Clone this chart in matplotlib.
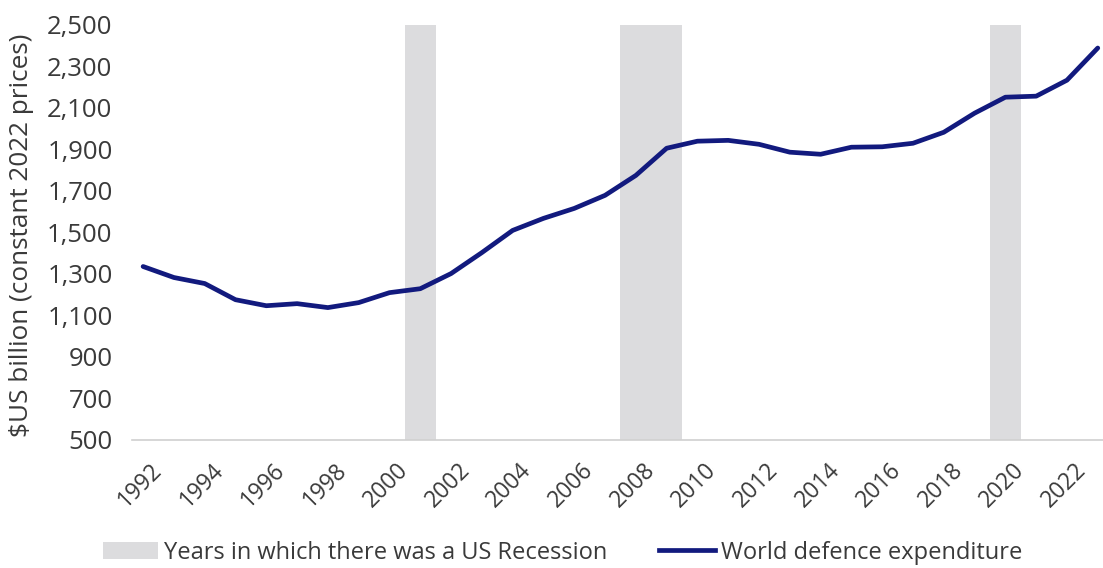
import matplotlib
matplotlib.use("Agg")
import matplotlib.pyplot as plt
import matplotlib.transforms as mtransforms
from matplotlib.patches import Patch
from matplotlib.lines import Line2D

# World defence expenditure, $US billion (constant 2022 prices)
years = list(range(1992, 2024))
spending = [1336, 1283, 1254, 1176, 1147, 1157, 1138, 1162, 1210, 1229,
            1302, 1403, 1510, 1568, 1616, 1679, 1775, 1906, 1940, 1944,
            1925, 1887, 1877, 1911, 1913, 1930, 1983, 2075, 2152, 2157,
            2234, 2389]

# years with a US recession (shaded columns)
recession_years = [2001, 2008, 2009, 2020]
tick_years = list(range(1992, 2024, 2))

plt.rcParams['font.family'] = ['Open Sans', 'DejaVu Sans']
txt_color = '#3a3a3a'
navy = '#121a7e'
shade = '#dcdcde'

fig = plt.figure(figsize=(11.03, 5.68), dpi=100)
ax = fig.add_axes([0.1197, 0.2254, 0.8803, 0.7306])

ax.bar(recession_years, [2500 - 500] * len(recession_years), bottom=500,
       width=1.0, color=shade, linewidth=0, zorder=1)
ax.plot(years, spending, color=navy, linewidth=3.4, solid_joinstyle='round',
        solid_capstyle='round', zorder=3)

ax.set_ylim(500, 2500)
ax.set_xlim(1991.64, 2023.17)
ax.set_yticks(range(500, 2501, 200))
ax.set_yticklabels([f'{v:,}' for v in range(500, 2501, 200)])
ax.set_xticks(tick_years)
ax.set_xticklabels([str(y) for y in tick_years], rotation=45, ha='right',
                   rotation_mode='anchor')
ax.tick_params(axis='both', length=0, colors=txt_color)
ax.tick_params(axis='x', pad=11, labelsize=16.5)
ax.tick_params(axis='y', pad=14, labelsize=18.5)

# nudge the slanted year labels so their ends sit just past the tick
shift = mtransforms.ScaledTranslation(0.07, -0.03, fig.dpi_scale_trans)
for lbl in ax.get_xticklabels():
    lbl.set_transform(lbl.get_transform() + shift)

for side in ['top', 'right', 'left']:
    ax.spines[side].set_visible(False)
ax.spines['bottom'].set_color('#d0d0d0')
ax.spines['bottom'].set_linewidth(1.2)

fig.text(22 / 1103, 0.585, '$US billion (constant 2022 prices)',
         rotation=90, ha='center', va='center', fontsize=18.8,
         color=txt_color)

handles = [Patch(facecolor=shade, edgecolor='none',
                 label='Years in which there was a US Recession'),
           Line2D([0], [0], color=navy, linewidth=3.4,
                  label='World defence expenditure')]
fig.legend(handles=handles, loc='center', ncol=2, frameon=False,
           fontsize=17, bbox_to_anchor=(0.51, 0.027), handlelength=2.35,
           handleheight=0.75, handletextpad=0.25, columnspacing=2.2,
           labelcolor=txt_color, borderpad=0)

fig.savefig('out.png', dpi=100)
